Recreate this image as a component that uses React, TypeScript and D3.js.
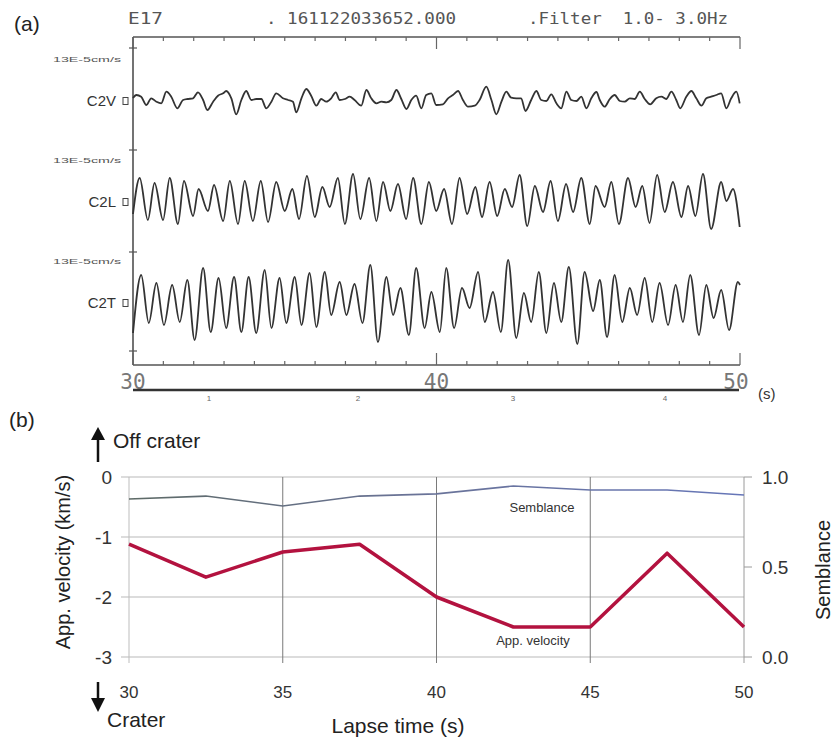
import React from 'react';
import * as d3 from 'd3';

// ---------- Panel (a): seismograms ----------
const channelNames = ['C2V', 'C2L', 'C2T'];
const ampUnitLabel = '13E-5cm/s';
const headerStation = 'E17';
const headerTime = '. 161122033652.000';
const headerFilter = '.Filter  1.0- 3.0Hz';
const waveTicks = [30, 40, 50];
const minuteMarks = [1, 2, 3, 4];
const minuteMarkTimes = [32.5, 37.41, 42.52, 47.53];

const c2vTime = [30.00,30.11,30.27,30.44,30.60,30.77,30.93,31.10,31.26,31.46,31.65,31.81,31.98,32.14,32.31,32.45,32.64,32.80,32.97,33.07,33.24,33.40,33.57,33.73,33.90,34.06,34.23,34.39,34.56,34.72,34.94,35.11,35.27,35.38,35.55,35.71,35.87,36.04,36.20,36.37,36.53,36.68,36.81,36.98,37.14,37.30,37.52,37.69,37.85,38.02,38.18,38.35,38.51,38.68,38.84,39.01,39.17,39.33,39.50,39.66,39.83,39.99,40.21,40.38,40.54,40.71,40.87,41.04,41.26,41.42,41.64,41.81,41.97,42.14,42.30,42.46,42.63,42.79,42.93,43.12,43.29,43.45,43.62,43.78,43.95,44.11,44.28,44.44,44.61,44.77,44.94,45.10,45.27,45.38,45.54,45.71,45.87,46.04,46.20,46.37,46.53,46.70,46.86,47.04,47.24,47.41,47.57,47.74,47.90,48.03,48.23,48.40,48.56,48.73,48.89,49.05,49.22,49.38,49.55,49.71,49.88,49.99];
const c2vAmp = [3,6,4.3,-4,2.7,-0.7,-2.3,9.3,4.3,-7.3,1,2,2.7,8.7,1,-9,-0.7,5.3,7.7,10,2.7,-13.3,1,10,1,2,2,-7.3,-0.7,7.7,2.7,1,-0.7,-11.3,2.7,12,5.3,-4.7,2,-0.7,2.7,8.7,1,2,4.3,1,-4.7,11,2.7,-2.3,-0.7,-1.3,1,11,2,-8,1,5.3,-7.3,6,7.7,-4,-3.3,2.7,6,10,1,-5.7,-4.7,1,14.3,1,-13.3,-0.7,9.3,3.3,2.7,2.7,-10,1,10,1,0,6.7,-2.3,-7.3,9.3,1,0,4.3,-7.3,2.7,9,1,-5.7,2,6,0,-0.7,2.7,2,9.3,2,-3.3,2.7,4.3,2,9.3,1,-7.3,4.3,10,2.7,-4.7,2.7,4.3,6,7.7,-7.3,2.7,9.3,-2.3];

const c2lTime = [30.00,30.22,30.49,30.71,30.99,31.21,31.48,31.68,31.98,32.16,32.47,32.67,32.97,33.19,33.46,33.68,33.95,34.21,34.45,34.72,35.00,35.25,35.47,35.73,35.99,36.24,36.48,36.75,36.98,37.25,37.49,37.78,38.02,38.24,38.48,38.73,39.00,39.23,39.50,39.75,39.99,40.25,40.51,40.76,41.01,41.28,41.50,41.75,42.00,42.25,42.49,42.74,42.99,43.24,43.51,43.76,44.00,44.27,44.50,44.77,45.05,45.24,45.54,45.76,46.01,46.31,46.56,46.78,47.02,47.27,47.52,47.79,48.07,48.29,48.53,48.78,49.05,49.38,49.55,49.77,49.99];
const c2lAmp = [-12,24,-18,19,-18,24,-22,21,-14,13,-9,17,-19,21,-22,21,-19,21,-20,20,-9,13,-17,26,-15,15,-5,24,-22,28,-17,24,-19,20,-9,18,-17,24,-22,20,-9,13,-22,24,-12,15,-15,20,-14,13,-5,27,-24,16,-10,21,-19,18,-10,24,-22,16,-5,20,-22,24,-5,16,-21,27,-10,20,-15,16,-14,28,-27,20,1,13,-25];

const c2tTime = [30.00,30.27,30.52,30.77,31.02,31.29,31.54,31.79,32.03,32.31,32.56,32.82,33.07,33.33,33.57,33.81,34.06,34.34,34.56,34.83,35.05,35.33,35.55,35.82,36.04,36.32,36.53,36.81,37.03,37.30,37.56,37.82,38.07,38.35,38.57,38.81,39.09,39.33,39.61,39.83,40.11,40.32,40.58,40.84,41.09,41.37,41.59,41.86,42.12,42.36,42.63,42.88,43.12,43.37,43.62,43.87,44.11,44.36,44.64,44.88,45.16,45.38,45.62,45.87,46.12,46.37,46.61,46.86,47.11,47.35,47.63,47.88,48.12,48.36,48.65,48.89,49.13,49.38,49.64,49.93,50.00];
const c2tAmp = [-30,28,-20,20,-22,18,-19,23,-37,35,-29,25,-25,26,-29,26,-30,33,-25,25,-20,26,-22,30,-24,31,-12,21,-12,19,-20,38,-39,26,-12,15,-32,35,-25,11,-29,35,-25,15,-5,31,-19,11,-29,43,-35,10,-19,31,-30,20,-19,36,-41,31,-8,23,-34,28,-19,15,-12,25,-19,20,-22,18,-19,28,-32,18,-15,13,-27,21,18];

// ---------- Panel (b) ----------
const lapseTime = [30, 32.5, 35, 37.5, 40, 42.5, 45, 47.5, 50];
const appVelocity = [-1.12, -1.67, -1.25, -1.12, -2.0, -2.5, -2.5, -1.27, -2.5];
const semblance = [0.878, 0.894, 0.839, 0.894, 0.906, 0.95, 0.928, 0.928, 0.9];
const velTicks = [0, -1, -2, -3];
const sembTicks = [1.0, 0.5, 0.0];
const lapseTicks = [30, 35, 40, 45, 50];

const FONT = '"Liberation Sans", Arial, sans-serif';
const MONO = '"DejaVu Sans Mono", monospace';

export default function App() {
  // panel (a) scales
  const xa = d3.scaleLinear().domain([30, 50]).range([133, 740]);
  const chanY = d3.scalePoint<string>().domain(channelNames).range([101, 303]);
  const amp = d3.scaleLinear().domain([-50, 50]).range([50, -50]);
  const series = [
    { name: 'C2V', t: c2vTime, a: c2vAmp },
    { name: 'C2L', t: c2lTime, a: c2lAmp },
    { name: 'C2T', t: c2tTime, a: c2tAmp },
  ];
  const wave = (t: number[], a: number[], base: number) => {
    const pts = d3.zip(t, a) as [number, number][];
    return d3
      .line<[number, number]>()
      .x((d) => xa(d[0]))
      .y((d) => base + amp(d[1]))
      .curve(d3.curveMonotoneX)(pts) as string;
  };
  const secTicks = d3.range(30, 51);
  const topY = 37;
  const botY = 365;
  const leftTickYs = [48, 150, 252, 351];

  // panel (b) scales
  const xb = d3.scaleLinear().domain([30, 50]).range([129, 744]);
  const yv = d3.scaleLinear().domain([-3, 0]).range([657, 477]);
  const ys = d3.scaleLinear().domain([0, 1]).range([657, 477]);
  const idx = d3.range(lapseTime.length);
  const velLine = d3
    .line<number>()
    .x((i) => xb(lapseTime[i]))
    .y((i) => yv(appVelocity[i]))(idx) as string;
  const sembLine = d3
    .line<number>()
    .x((i) => xb(lapseTime[i]))
    .y((i) => ys(semblance[i]))(idx) as string;

  return (
    <svg
      width={836}
      height={743}
      style={{ position: 'absolute', left: 0, top: 0, background: '#fff' }}
    >
      <defs>
        <linearGradient id="sembGrad" x1="0" x2="1" y1="0" y2="0">
          <stop offset="0" stopColor="#5d6a66" />
          <stop offset="0.45" stopColor="#6a7396" />
          <stop offset="1" stopColor="#6676b8" />
        </linearGradient>
      </defs>
      <rect x={0} y={0} width={836} height={743} fill="#fff" />

      {/* ---------- panel (a) ---------- */}
      <text x={14} y={31} fontFamily={FONT} fontSize={21} fill="#222">(a)</text>
      <text x={128} y={24} fontFamily={MONO} fontSize={15} fill="#555" textLength={35} lengthAdjust="spacingAndGlyphs">{headerStation}</text>
      <text x={266} y={24} fontFamily={MONO} fontSize={15} fill="#555" textLength={190} lengthAdjust="spacingAndGlyphs">{headerTime}</text>
      <text x={528} y={24} fontFamily={MONO} fontSize={15} fill="#555" textLength={200} lengthAdjust="spacingAndGlyphs" style={{ whiteSpace: 'pre' }}>{headerFilter}</text>

      {/* frame */}
      <line x1={133} x2={740} y1={topY} y2={topY} stroke="#555" strokeWidth={1.5} />
      <line x1={133} x2={740} y1={botY} y2={botY} stroke="#555" strokeWidth={1.5} />
      <line x1={133} x2={133} y1={topY} y2={botY} stroke="#444" strokeWidth={1.5} />
      {secTicks.map((s) => {
        const major = s % 10 === 0;
        return (
          <g key={'st' + s}>
            <line x1={xa(s)} x2={xa(s)} y1={topY} y2={topY + (major ? 12 : 4)} stroke="#666" strokeWidth={1.2} />
            <line x1={xa(s)} x2={xa(s)} y1={botY} y2={botY - (major ? 12 : 4)} stroke="#666" strokeWidth={1.2} />
          </g>
        );
      })}
      {leftTickYs.map((y) => (
        <line key={'lt' + y} x1={129} x2={137} y1={y} y2={y} stroke="#555" strokeWidth={1.2} />
      ))}

      {series.map((s) => {
        const base = chanY(s.name) as number;
        return (
          <g key={s.name}>
            <text x={53} y={base - 39} fontFamily={FONT} fontSize={8} fill="#555" textLength={68} lengthAdjust="spacingAndGlyphs">{ampUnitLabel}</text>
            <text x={116} y={base + 5} textAnchor="end" fontFamily={FONT} fontSize={15} fill="#333">{s.name}</text>
            <rect x={123} y={base - 3.5} width={5} height={7} fill="none" stroke="#444" strokeWidth={1} />
            <path d={wave(s.t, s.a, base)} fill="none" stroke="#333" strokeWidth={1.8} strokeLinejoin="round" />
          </g>
        );
      })}

      {waveTicks.map((t) => (
        <text key={'wt' + t} x={xa(t) - (t === 50 ? 4 : 0)} y={389} textAnchor="middle" fontFamily={MONO} fontSize={21} fill="#777">{t}</text>
      ))}
      <text x={758} y={399} fontFamily={FONT} fontSize={15} fill="#333">(s)</text>
      <line x1={133} x2={739} y1={390} y2={390} stroke="#333" strokeWidth={2.5} />
      {minuteMarks.map((m, i) => (
        <text key={'mm' + m} x={xa(minuteMarkTimes[i])} y={401} textAnchor="middle" fontFamily={FONT} fontSize={8} fill="#666">{m}</text>
      ))}

      {/* ---------- panel (b) ---------- */}
      <text x={9} y={427} fontFamily={FONT} fontSize={21} fill="#222">(b)</text>

      {/* up arrow + Off crater */}
      <line x1={98} x2={98} y1={462} y2={436} stroke="#111" strokeWidth={2.5} />
      <path d="M91,440 L98,427 L105,440 Z" fill="#111" />
      <text x={113} y={448} fontFamily={FONT} fontSize={21} fill="#222">Off crater</text>
      {/* down arrow + Crater */}
      <line x1={98} x2={98} y1={682} y2={702} stroke="#111" strokeWidth={2.5} />
      <path d="M91,698 L98,712 L105,698 Z" fill="#111" />
      <text x={107} y={727} fontFamily={FONT} fontSize={21} fill="#222">Crater</text>

      {/* gridlines */}
      {velTicks.map((v) => (
        <line key={'hg' + v} x1={121} x2={744} y1={yv(v)} y2={yv(v)} stroke="#b9b9b9" strokeWidth={1} />
      ))}
      {lapseTicks.map((t) => (
        <line
          key={'vg' + t}
          x1={xb(t)}
          x2={xb(t)}
          y1={yv(0)}
          y2={yv(-3) + 6}
          stroke={t === 30 ? '#bdbdbd' : t === 50 ? '#9a9a9a' : '#7a7a7a'}
          strokeWidth={1}
        />
      ))}
      {sembTicks.map((s) => (
        <line key={'rt' + s} x1={744} x2={752} y1={ys(s)} y2={ys(s)} stroke="#9a9a9a" strokeWidth={1} />
      ))}

      {/* series */}
      <path d={sembLine} fill="none" stroke="url(#sembGrad)" strokeWidth={1.6} />
      <path d={velLine} fill="none" stroke="#b3123f" strokeWidth={3.5} strokeLinejoin="round" />
      <text x={542} y={512} textAnchor="middle" fontFamily={FONT} fontSize={13} fill="#333">Semblance</text>
      <text x={533} y={645} textAnchor="middle" fontFamily={FONT} fontSize={13} fill="#333">App. velocity</text>

      {/* tick labels */}
      {velTicks.map((v) => (
        <text key={'vl' + v} x={112} y={yv(v) + 7} textAnchor="end" fontFamily={FONT} fontSize={19} fill="#333">{v}</text>
      ))}
      {sembTicks.map((s) => (
        <text key={'sl' + s} x={762} y={ys(s) + 7} fontFamily={FONT} fontSize={19} fill="#333">{s.toFixed(1)}</text>
      ))}
      {lapseTicks.map((t) => (
        <text key={'xl' + t} x={xb(t)} y={698} textAnchor="middle" fontFamily={FONT} fontSize={17} fill="#333">{t}</text>
      ))}
      <text x={398} y={733} textAnchor="middle" fontFamily={FONT} fontSize={21} fill="#222">Lapse time (s)</text>
      <text transform="translate(70,562) rotate(-90)" textAnchor="middle" fontFamily={FONT} fontSize={20} fill="#222">App. velocity (km/s)</text>
      <text transform="translate(830,570) rotate(-90)" textAnchor="middle" fontFamily={FONT} fontSize={20} fill="#222">Semblance</text>
    </svg>
  );
}
